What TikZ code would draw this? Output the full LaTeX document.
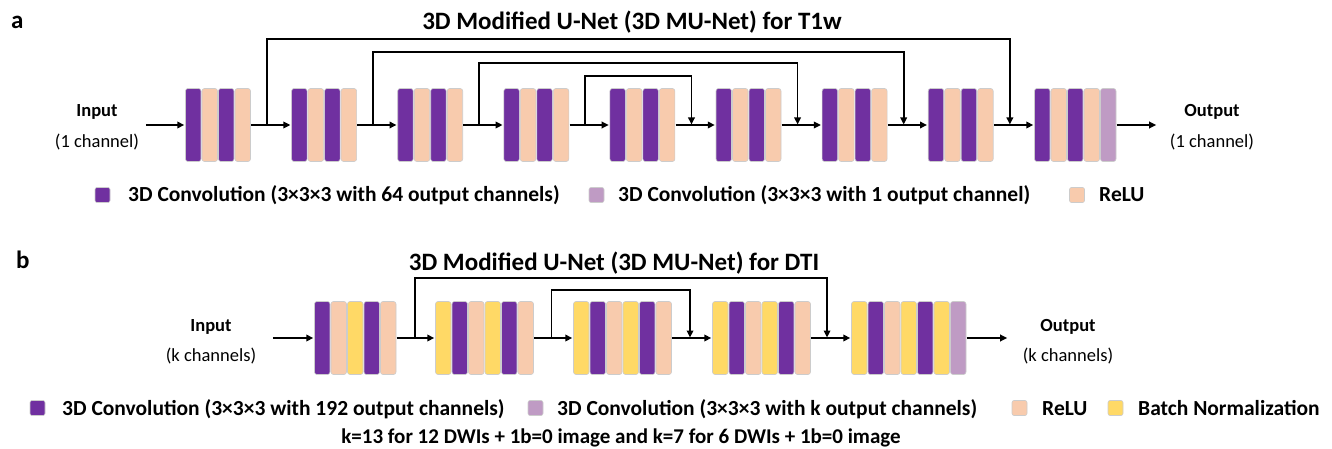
\documentclass[tikz,border=0pt]{standalone}
\usepackage{fontspec}
\setmainfont{Carlito}
\usetikzlibrary{positioning,calc,arrows.meta}

\definecolor{convpurple}{RGB}{112,48,160}
\definecolor{outpurple}{RGB}{191,155,196}
\definecolor{relupeach}{RGB}{248,203,173}
\definecolor{bnyellow}{RGB}{255,217,102}

% one block of layers: name, left x, centre y, colours of the strips
\newcommand{\netblock}[4]{%
  \foreach \col [count=\n] in {#4}{
    \draw[strip,fill=\col] ({#2+(\n-1)*16.5+0.5},{#3-36.5}) rectangle ++(15.5,73);
    \xdef\nstrips{\n}
  }
  \node[blockbox,minimum width=\nstrips*16.5pt] (#1) at ({#2+\nstrips*8.25},#3) {};
}

\begin{document}
\begin{tikzpicture}[x=1pt,y=-1pt,
  strip/.style={draw=black!20,line width=0.6pt,rounded corners=2.5pt},
  blockbox/.style={inner sep=0pt,minimum height=73pt},
  link/.style={line width=1.8pt,shorten >=0.5pt,-{Triangle[length=7pt,width=6.5pt]}},
  title/.style={font=\fontsize{25}{30}\selectfont\bfseries,anchor=base,inner sep=0pt},
  lbl/.style={font=\fontsize{18.5}{22}\selectfont,anchor=base,inner sep=0pt},
  lblb/.style={lbl,font=\fontsize{18.5}{22}\selectfont\bfseries},
  key/.style={draw=black!20,line width=0.6pt,rounded corners=2pt,minimum size=15pt,inner sep=0pt},
  keytext/.style={font=\fontsize{21.5}{26}\selectfont\bfseries,anchor=base west,inner sep=0pt}]
\useasboundingbox (0,0) rectangle (1332,449);

% ---- a: T1w
\node[title,anchor=base west] (taga) at (11,29) {a};
\node[title] (ttla) at (632,30) {3D Modified U-Net (3D MU-Net) for T1w};
\foreach \i in {1,...,8}
  \netblock{a\i}{185+(\i-1)*106.1}{125}{convpurple,relupeach,convpurple,relupeach};
\netblock{a9}{1034}{125}{convpurple,relupeach,convpurple,relupeach,outpurple}
\foreach \i [evaluate=\i as \j using int(\i+1)] in {1,...,8}
  \draw[link] (a\i.east) -- (a\j.west);
\draw[link] ($(a1.east)!.4!(a2.west)$) -- ++(0,-86) -| ($(a8.east)!.4!(a9.west)$);
\draw[link] ($(a2.east)!.4!(a3.west)$) -- ++(0,-73) -| ($(a7.east)!.4!(a8.west)$);
\draw[link] ($(a3.east)!.4!(a4.west)$) -- ++(0,-62) -| ($(a6.east)!.4!(a7.west)$);
\draw[link] ($(a4.east)!.4!(a5.west)$) -- ++(0,-49) -| ($(a5.east)!.4!(a6.west)$);

\node[lblb] (ina) at (97,117) {Input};
\node[lbl] (inach) at (97,148) {(1 channel)};
\coordinate[left=39pt of a1.west] (inpa);
\draw[link] (inpa) -- (a1.west);
\node[lblb] (outa) at (1212,117) {Output};
\node[lbl] (outach) at (1212,148) {(1 channel)};
\coordinate[right=40pt of a9.east] (outpa);
\draw[link] (a9.east) -- (outpa);

\node[key,fill=convpurple] (kconva) at (102.5,195) {};
\node[keytext] (tconva) at (128,201) {3D Convolution (3×3×3 with 64 output channels)};
\node[key,fill=outpurple] (kouta) at (596.5,195) {};
\node[keytext] (touta) at (618,201) {3D Convolution (3×3×3 with 1 output channel)};
\node[key,fill=relupeach] (krelua) at (1077,195) {};
\node[keytext] (trelua) at (1099,201) {ReLU};

% ---- b: DTI
\node[title,anchor=base west] (tagb) at (16,268) {b};
\node[title] (ttlb) at (614,270) {3D Modified U-Net (3D MU-Net) for DTI};
\netblock{b1}{314}{338}{convpurple,relupeach,bnyellow,convpurple,relupeach}
\netblock{b2}{435}{338}{bnyellow,convpurple,relupeach,bnyellow,convpurple,relupeach}
\netblock{b3}{573}{338}{bnyellow,convpurple,relupeach,bnyellow,convpurple,relupeach}
\netblock{b4}{712}{338}{bnyellow,convpurple,relupeach,bnyellow,convpurple,relupeach}
\netblock{b5}{851}{338}{bnyellow,convpurple,relupeach,bnyellow,convpurple,bnyellow,outpurple}
\foreach \i [evaluate=\i as \j using int(\i+1)] in {1,...,4}
  \draw[link] (b\i.east) -- (b\j.west);
\draw[link] ($(b1.east)!.48!(b2.west)$) -- ++(0,-60) -| ($(b4.east)!.4!(b5.west)$);
\draw[link] ($(b2.east)!.45!(b3.west)$) -- ++(0,-48) -| ($(b3.east)!.45!(b4.west)$);

\node[lblb] (inb) at (211,331) {Input};
\node[lbl] (inbch) at (211,361) {(k channels)};
\coordinate[left=41pt of b1.west] (inpb);
\draw[link] (inpb) -- (b1.west);
\node[lblb] (outb) at (1068,331) {Output};
\node[lbl] (outbch) at (1068,361) {(k channels)};
\coordinate[right=41pt of b5.east] (outpb);
\draw[link] (b5.east) -- (outpb);

\node[key,fill=convpurple] (kconvb) at (37.5,408) {};
\node[keytext] (tconvb) at (62,415) {3D Convolution (3×3×3 with 192 output channels)};
\node[key,fill=outpurple] (koutb) at (535.5,408) {};
\node[keytext] (toutb) at (557,415) {3D Convolution (3×3×3 with k output channels)};
\node[key,fill=relupeach] (kselub) at (1019.5,408) {};
\node[keytext] (trelub) at (1042,415) {ReLU};
\node[key,fill=bnyellow] (kbnb) at (1115.5,408) {};
\node[keytext] (tbnb) at (1138,415) {Batch Normalization};
\node[keytext,font=\fontsize{21}{25}\selectfont\bfseries,anchor=base] (tnote) at (621,443) {k=13 for 12 DWIs + 1b=0 image and k=7 for 6 DWIs + 1b=0 image};
\end{tikzpicture}
\end{document}
